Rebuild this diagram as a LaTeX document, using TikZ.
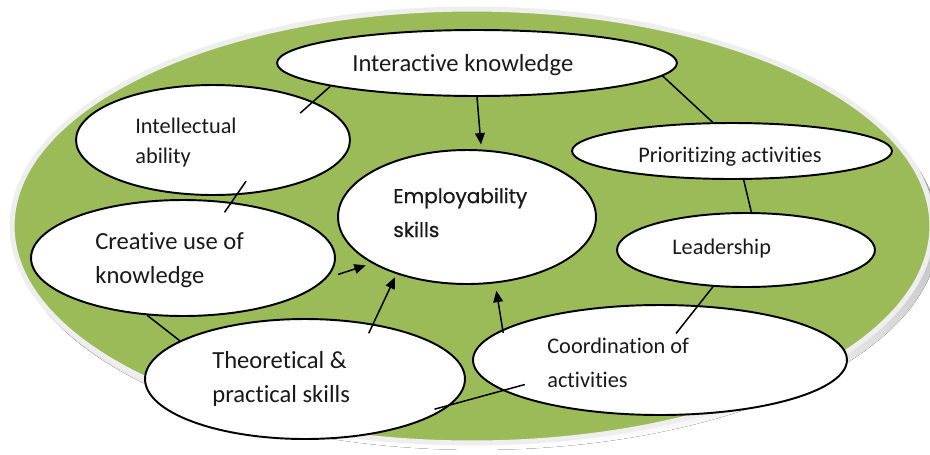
\documentclass[tikz,border=0pt]{standalone}
\usepackage{fontspec}
\setmainfont{Carlito}[Ligatures=NoCommon]
\newfontfamily\geofont{Poppins}[FakeBold=0.8]
\usetikzlibrary{shapes.geometric,arrows.meta}

\definecolor{olive}{HTML}{9BBB59}
\definecolor{rim}{HTML}{EEEEEE}
\definecolor{shade}{HTML}{A4AF93}

\begin{document}
\begin{tikzpicture}[
    x=0.02cm,
    y=-0.02cm,
    bubble/.style={
        ellipse,
        draw,
        fill=white,
        line width=1.1pt,
        inner sep=0pt
    },
    big/.style={
        anchor=base west,
        align=left,
        inner sep=0pt,
        text=black!90,
        font=\fontsize{14}{19}\selectfont
    },
    small/.style={
        big,
        font=\fontsize{12.7}{17}\selectfont
    },
    link/.style={
        line width=0.85pt
    },
    arrow/.style={
        link,
        -{Triangle[length=6.5pt,width=5.5pt]}
    }
]
\useasboundingbox (0,0) rectangle (930,454);

% =====================
% Fondo
% =====================
\fill[shade] (477,233) ellipse [x radius=9.24cm, y radius=4.34cm];
\filldraw[fill=olive, draw=rim, line width=0.1cm] (472,226) ellipse [x radius=9.2cm, y radius=4.34cm];

% =====================
% Elipses
% =====================
\node[bubble, minimum width=8cm,    minimum height=1.32cm] (interactive)  at (477,63)  {};
\node[bubble, minimum width=5.48cm, minimum height=2.2cm]  (intellectual) at (213,140) {};
\node[bubble, minimum width=5.16cm, minimum height=2.68cm] (employ)       at (467,217) {};
\node[bubble, minimum width=6.4cm,  minimum height=1.12cm] (prior)        at (732,151) {};
\node[bubble, minimum width=5.16cm, minimum height=1.48cm] (leader)       at (746,250) {};
\node[bubble, minimum width=7.48cm, minimum height=2.2cm]  (coord)        at (660,360) {};
\node[bubble, minimum width=6.4cm,  minimum height=2.4cm]  (theory)       at (305,379) {};
\node[bubble, minimum width=6.08cm, minimum height=2.32cm] (creative)     at (183,258) {};

% =====================
% Textos (base = ultima linea)
% =====================
\node[big]   (t-interactive)  at (352,71)  {Interactive knowledge};
\node[small] (t-intellectual) at (135,163) {Intellectual\\ability};
\node[big, font=\geofont\fontsize{11.4}{19.3}\selectfont]
             (t-employ)       at (393,237) {Employability\\skills};
\node[small] (t-prior)        at (638,162) {Prioritizing activities};
\node[small] (t-leader)       at (672,254) {Leadership};
\node[small] (t-coord)        at (547,387) {Coordination of\\[2pt]activities};
\node[big]   (t-theory)       at (212,402) {Theoretical \&\\practical skills};
\node[big]   (t-creative)     at (95,283)  {Creative use of\\knowledge};

% =====================
% Conexiones
% =====================
\draw[link] (interactive.189) -- (intellectual.21) [shorten >=-0.35cm];
\draw[link, shorten <=-0.34cm, shorten >=-0.25cm] (intellectual.-67.5) -- (creative.49.7);
\draw[link] (interactive.-4.2) -- (prior.124.3);
\draw[link] (prior.-68.5) -- (leader.82.3);
\draw[link, shorten >=-0.72cm] (leader.-132.7) -- (coord.55.1);
\draw[link] (creative.-122.5) -- (theory.163.3);
\draw[link, shorten <=-0.34cm, shorten >=-0.46cm] (theory.-10.1) -- (coord.191.2);

% flechas hacia el centro
\draw[arrow, shorten >=0.1cm] (interactive.south) -- (employ.78);
\draw[arrow, shorten <=0.24cm, shorten >=0.13cm] (creative.-8.3) -- (employ.206.1);
\draw[arrow, shorten <=-0.21cm, shorten >=0.07cm] (theory.39.4) -- (employ.219.8);
\draw[arrow, shorten <=-0.07cm, shorten >=0.15cm] (coord.169.5) -- (employ.-67.7);

\end{tikzpicture}
\end{document}
